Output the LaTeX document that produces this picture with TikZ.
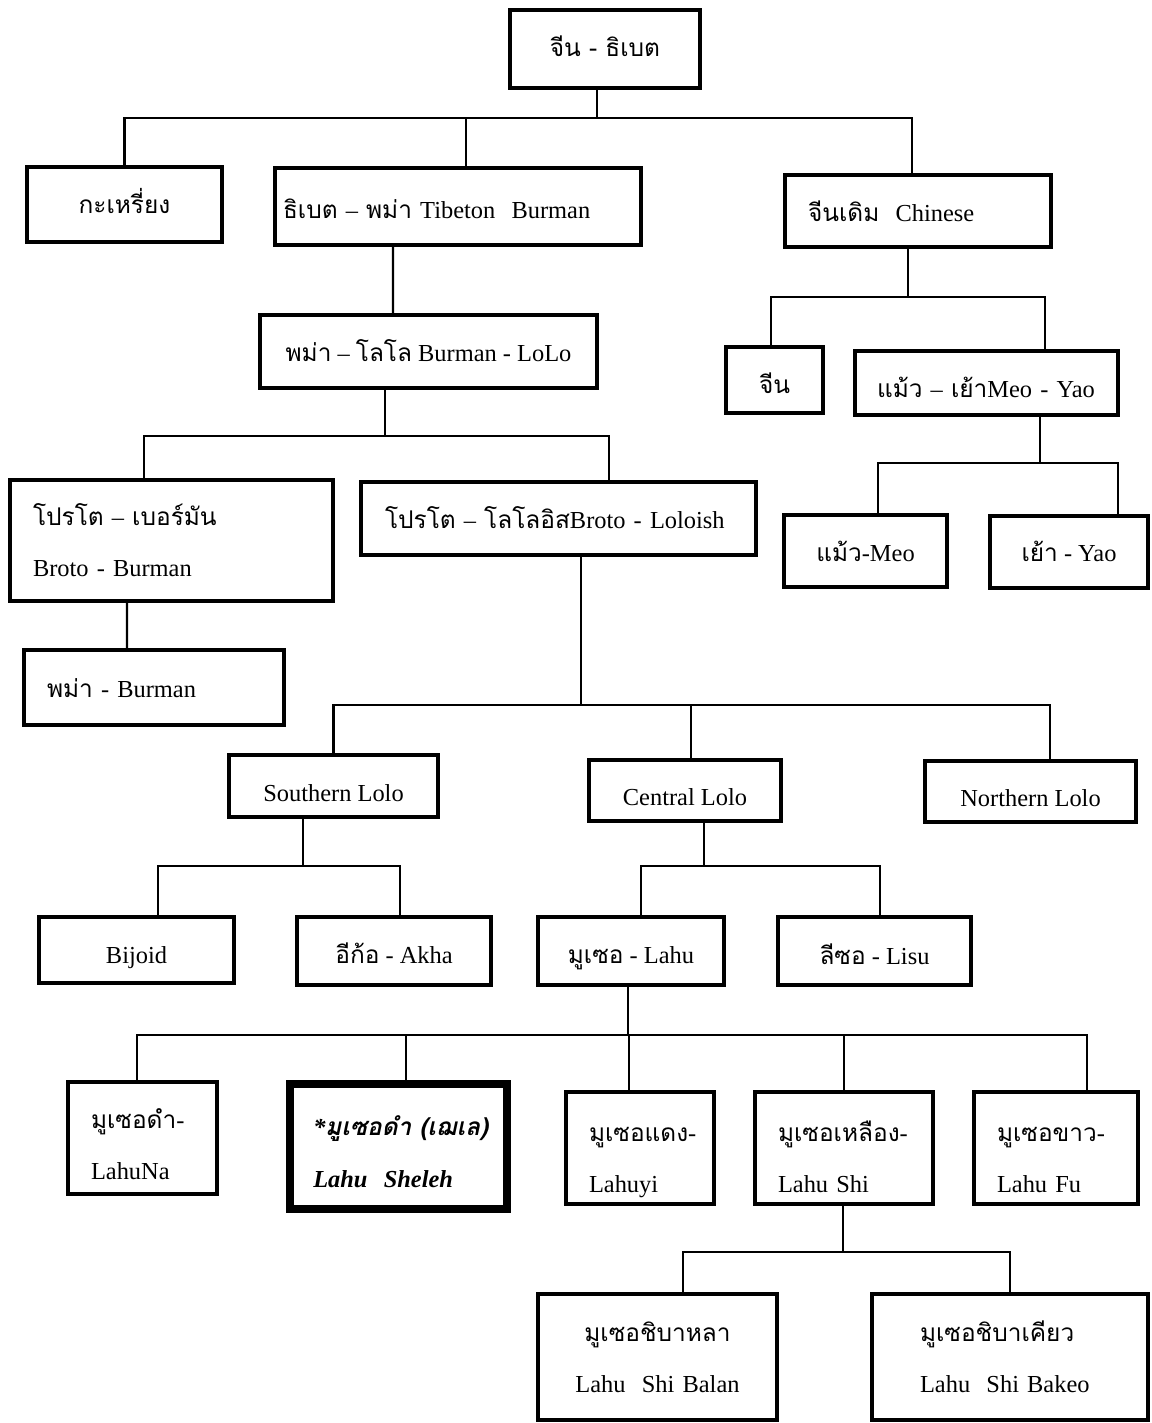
\documentclass[tikz,border=0pt]{standalone}
\usepackage{fontspec}
\setmainfont{Liberation Serif}
\newfontfamily\thaifont[Script=Thai]{Loma}

\begin{document}
\begin{tikzpicture}[
        x=0.02cm, y=-0.02cm,
        box/.style={rectangle, draw=black, line width=2pt, fill=white, inner sep=0pt, align=center, font=\fontsize{13.9}{29.5}\selectfont},
        lbox/.style={box, align=left, text width=#1, inner xsep=0.46cm},
        sl/.style={text height=#1, text depth=0pt},
        tl/.style={execute at begin node={\rule{0pt}{#1}}, execute at end node={\rule[-4pt]{0pt}{4pt}}},
        link/.style={draw=black, line width=1.2pt}
    ]
        \useasboundingbox (0,0) rectangle (1152,1423);

        % --- TOP LEVEL ---
        \node[box, sl=8pt, minimum width=3.8cm, minimum height=1.56cm] (root) at (605,49) {\thaifont จีน - ธิเบต};
        \node[box, sl=10.8pt, minimum width=3.9cm, minimum height=1.5cm] (karen) at (124.5,204.5) {\thaifont กะเหรี่ยง};
        \node[lbox=7.0cm, inner xsep=0.16cm, sl=13.8pt, minimum height=1.54cm] (tibbur) at (458,206.5) {\mbox{{\thaifont ธิเบต} – {\thaifont พม่า} Tibeton\ \ Burman}};
        \node[lbox=4.4cm, sl=11.4pt, minimum height=1.44cm] (chinese) at (918,211) {\mbox{{\thaifont จีนเดิม}\ \ Chinese}};

        % --- CHINESE BRANCH ---
        \node[box, sl=14.8pt, minimum width=1.94cm, minimum height=1.32cm] (china) at (774.5,380) {\thaifont จีน};
        \node[lbox=4.38cm, inner xsep=0.44cm, sl=16pt, minimum height=1.28cm] (meoyao) at (986.5,383) {\mbox{{\thaifont แม้ว} – {\thaifont เย้า}Meo - Yao}};
        \node[box, sl=11.4pt, minimum width=3.26cm, minimum height=1.44cm] (meo) at (865.5,551) {{\thaifont แม้ว}-Meo};
        \node[box, sl=10.3pt, minimum width=3.16cm, minimum height=1.44cm] (yao) at (1069,552) {{\thaifont เย้า} - Yao};

        % --- BURMAN BRANCH ---
        \node[box, sl=11.4pt, minimum width=6.74cm, minimum height=1.46cm] (burlolo) at (428.5,351.5) {{\thaifont พม่า} – {\thaifont โลโล} Burman - LoLo};
        \node[lbox=5.54cm, tl=16pt, minimum height=2.42cm] (protobur) at (171.5,540.5) {\mbox{{\thaifont โปรโต} – {\thaifont เบอร์มัน}}\\Broto - Burman};
        \node[lbox=6.94cm, inner xsep=0.48cm, sl=11.4pt, minimum height=1.46cm] (protololo) at (558.5,518.5) {\mbox{{\thaifont โปรโต} – {\thaifont โลโลอิส}Broto - Loloish}};
        \node[lbox=4.28cm, sl=11.4pt, minimum height=1.5cm] (burman) at (154,687.5) {\mbox{{\thaifont พม่า} - Burman}};

        % --- LOLO ---
        \node[box, sl=17.2pt, minimum width=4.18cm, minimum height=1.24cm] (south) at (333.5,786) {Southern Lolo};
        \node[box, sl=17.2pt, minimum width=3.84cm, minimum height=1.22cm] (central) at (685,790.5) {Central Lolo};
        \node[box, sl=17.2pt, minimum width=4.22cm, minimum height=1.22cm] (north) at (1030.5,791.5) {Northern Lolo};
        \node[box, sl=14.8pt, minimum width=3.9cm, minimum height=1.32cm] (bijoid) at (136.5,950) {Bijoid};
        \node[box, sl=13.8pt, minimum width=3.88cm, minimum height=1.36cm] (akha) at (394,951) {{\thaifont อีก้อ} - Akha};
        \node[box, sl=13.8pt, minimum width=3.72cm, minimum height=1.36cm] (lahu) at (631,951) {{\thaifont มูเซอ} - Lahu};
        \node[box, sl=14.8pt, minimum width=3.86cm, minimum height=1.36cm] (lisu) at (874.5,951) {{\thaifont ลีซอ} - Lisu};

        % --- LAHU ---
        \node[lbox=2.06cm, tl=22.2pt, minimum height=2.24cm] (lahuna) at (142.5,1138) {\mbox{{\thaifont มูเซอดำ}-}\\LahuNa};
        \node[lbox=3.41cm, tl=21.2pt, line width=4.8pt, minimum height=2.49cm, font=\fontsize{13.9}{29.5}\selectfont\bfseries\itshape] (sheleh) at (398.5,1146.5) {\mbox{*{\thaifont มูเซอดำ (เฌเล)}}\\\mbox{Lahu\ \ Sheleh}};
        \node[lbox=2.04cm, tl=25.6pt, minimum height=2.24cm] (lahuyi) at (640,1148) {\mbox{{\thaifont มูเซอแดง}-}\\Lahuyi};
        \node[lbox=2.64cm, tl=25.6pt, minimum height=2.24cm] (lahushi) at (844,1148) {\mbox{{\thaifont มูเซอเหลือง}-}\\\mbox{Lahu Shi}};
        \node[lbox=2.36cm, tl=25.6pt, minimum height=2.24cm] (lahufu) at (1056,1148) {\mbox{{\thaifont มูเซอขาว}-}\\\mbox{Lahu Fu}};
        \node[box, text width=4.78cm, tl=15.4pt, minimum height=2.52cm] (balan) at (657.5,1357) {{\thaifont มูเซอชิบาหลา}\\Lahu\ \ Shi Balan};
        \node[lbox=3.6cm, inner xsep=0.96cm, tl=15.4pt, minimum height=2.52cm] (bakeo) at (1010,1357) {\mbox{\thaifont มูเซอชิบาเคียว}\\\mbox{Lahu\ \ Shi Bakeo}};

        % --- CONNECTIONS ---
        \coordinate (j1) at (597,118);
        \draw[link] (root.south -| j1) -- (j1);
        \draw[link] (j1) -| (karen.north);
        \draw[link] (j1) -| ([xshift=0.16cm]tibbur.north);
        \draw[link] (j1) -| ([xshift=-0.12cm]chinese.north);

        \draw[link] ([xshift=-1.3cm]tibbur.south) -- ([xshift=-0.71cm]burlolo.north);

        \coordinate (j2) at (385,436);
        \draw[link] (burlolo.south -| j2) -- (j2);
        \draw[link] (j2) -| ([xshift=-0.55cm]protobur.north);
        \draw[link] (j2) -| ([xshift=1.01cm]protololo.north);

        \draw[link] ([xshift=-0.89cm]protobur.south) -- ([xshift=-0.54cm]burman.north);

        \coordinate (j3) at (581,705);
        \draw[link] (protololo.south -| j3) -- (j3);
        \draw[link] (j3) -| (south.north);
        \draw[link] (j3) -| ([xshift=0.12cm]central.north);
        \draw[link] (j3) -| ([xshift=0.39cm]north.north);

        \coordinate (j4) at (303,866);
        \draw[link] (south.south -| j4) -- (j4);
        \draw[link] (j4) -| ([xshift=0.43cm]bijoid.north);
        \draw[link] (j4) -| ([xshift=0.12cm]akha.north);

        \coordinate (j5) at (704,866);
        \draw[link] (central.south -| j5) -- (j5);
        \draw[link] (j5) -| ([xshift=0.2cm]lahu.north);
        \draw[link] (j5) -| ([xshift=0.11cm]lisu.north);

        \coordinate (j6) at (628,1035);
        \draw[link] (lahu.south -| j6) -- (j6);
        \draw[link] (j6) -| ([xshift=-0.11cm]lahuna.north);
        \draw[link] (j6) -| ([xshift=0.15cm]sheleh.north);
        \draw[link] (j6) -| ([xshift=-0.22cm]lahuyi.north);
        \draw[link] (j6) -| (lahushi.north);
        \draw[link] (j6) -| ([xshift=0.62cm]lahufu.north);

        \coordinate (j7) at (843,1252);
        \draw[link] (lahushi.south -| j7) -- (j7);
        \draw[link] (j7) -| ([xshift=0.51cm]balan.north);
        \draw[link] (j7) -| (bakeo.north);

        \coordinate (j8) at (908,297);
        \draw[link] (chinese.south -| j8) -- (j8);
        \draw[link] (j8) -| ([xshift=-0.07cm]china.north);
        \draw[link] (j8) -| ([xshift=1.17cm]meoyao.north);

        \coordinate (j9) at (1040,463);
        \draw[link] (meoyao.south -| j9) -- (j9);
        \draw[link] (j9) -| ([xshift=0.25cm]meo.north);
        \draw[link] (j9) -| ([xshift=0.98cm]yao.north);

    \end{tikzpicture}
\end{document}
